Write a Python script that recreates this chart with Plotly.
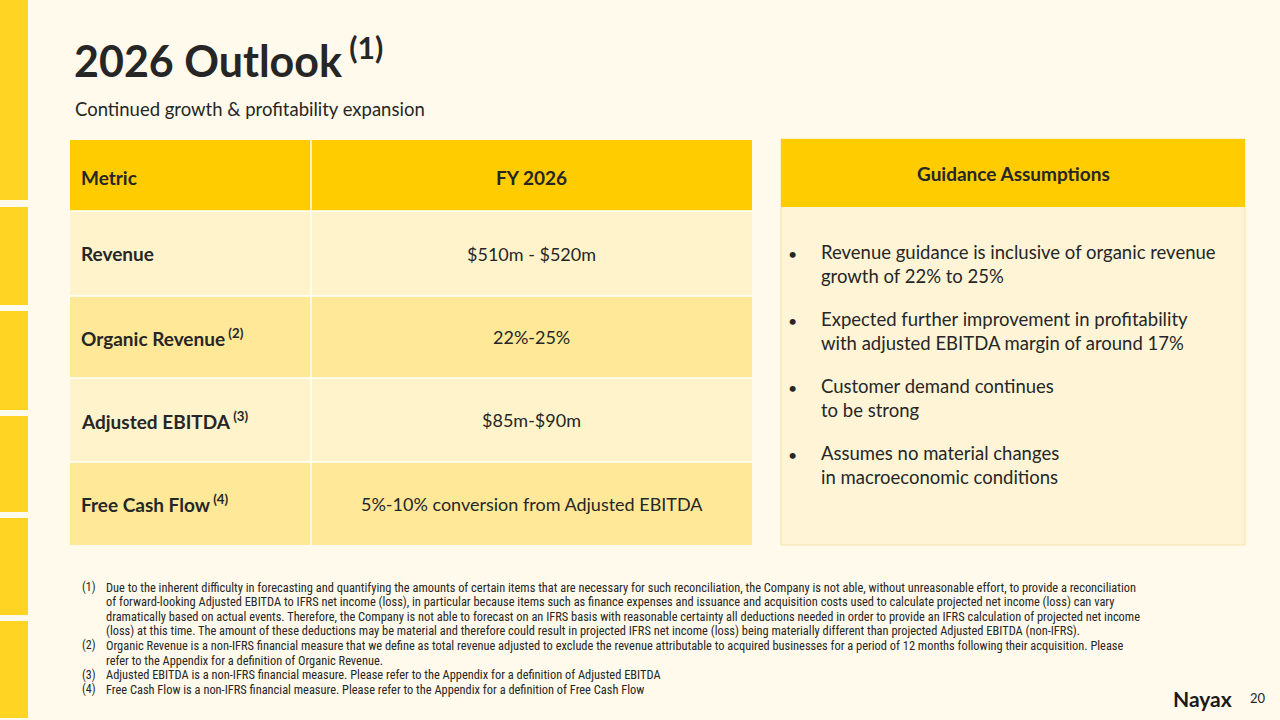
import plotly.graph_objects as go

title = "2026 Outlook"
subtitle = "Continued growth & profitability expansion"
header = ["Metric", "FY 2026"]
metrics = ["Revenue", "Organic Revenue", "Adjusted EBITDA", "Free Cash Flow"]
notes = ["", "(2)", "(3)", "(4)"]
values = ["$510m - $520m", "22%-25%", "$85m-$90m", "5%-10% conversion from Adjusted EBITDA"]
panel_title = "Guidance Assumptions"
bullets = [
    "Revenue guidance is inclusive of organic revenue<br>growth of 22% to 25%",
    "Expected further improvement in profitability<br>with adjusted EBITDA margin of around 17%",
    "Customer demand continues<br>to be strong",
    "Assumes no material changes<br>in macroeconomic conditions",
]
footnotes = [
    ("(1)", "Due to the inherent difficulty in forecasting and quantifying the amounts of certain items that are necessary for such reconciliation, the Company is not able, without unreasonable effort, to provide a reconciliation"),
    ("", "of forward-looking Adjusted EBITDA to IFRS net income (loss), in particular because items such as finance expenses and issuance and acquisition costs used to calculate projected net income (loss) can vary"),
    ("", "dramatically based on actual events. Therefore, the Company is not able to forecast on an IFRS basis with reasonable certainty all deductions needed in order to provide an IFRS calculation of projected net income"),
    ("", "(loss) at this time. The amount of these deductions may be material and therefore could result in projected IFRS net income (loss) being materially different than projected Adjusted EBITDA (non-IFRS)."),
    ("(2)", "Organic Revenue is a non-IFRS financial measure that we define as total revenue adjusted to exclude the revenue attributable to acquired businesses for a period of 12 months following their acquisition. Please"),
    ("", "refer to the Appendix for a definition of Organic Revenue."),
    ("(3)", "Adjusted EBITDA is a non-IFRS financial measure. Please refer to the Appendix for a definition of Adjusted EBITDA"),
    ("(4)", "Free Cash Flow is a non-IFRS financial measure. Please refer to the Appendix for a definition of Free Cash Flow"),
]

FONT = "Lato"
NARROW = "Roboto Condensed, Liberation Sans Narrow, Lato"
DARK = "#262626"
YEL = "#FFCC00"
row_fill = ["#FFF3CC", "#FFE999", "#FFF3CC", "#FFE999"]
row_edges = [211, 296, 378, 462, 545]

fig = go.Figure()
shapes, ann = [], []

# left tab strip
for y0, y1 in [(0, 200), (207, 305), (311, 410), (416, 512), (518, 615), (621, 718)]:
    shapes.append(dict(type="rect", x0=-6, x1=28, y0=y0, y1=y1, line_width=0,
                       fillcolor=YEL, opacity=0.85, layer="below"))

ann.append(dict(x=72, y=57, text=f"<b>{title}</b><sup><b> (1)</b></sup>", xanchor="left",
                font=dict(size=43, color=DARK, family=FONT)))
ann.append(dict(x=73, y=109, text=subtitle, xanchor="left",
                font=dict(size=18.5, color=DARK, family=FONT)))

# table
xl, xm, xr = 70, 311, 752
shapes.append(dict(type="rect", x0=xl, x1=xr, y0=140, y1=211, fillcolor=YEL, line_width=0))
shapes.append(dict(type="line", x0=xm, x1=xm, y0=140, y1=545, line=dict(color="white", width=1.5)))
ann.append(dict(x=79, y=177, text=f"<b>{header[0]}</b>", xanchor="left", font=dict(size=19, color=DARK, family=FONT)))
ann.append(dict(x=(xm + xr) / 2, y=177, text=f"<b>{header[1]}</b>", xanchor="center", font=dict(size=19, color=DARK, family=FONT)))
for i, m in enumerate(metrics):
    y0, y1 = row_edges[i], row_edges[i + 1]
    shapes.append(dict(type="rect", x0=xl, x1=xr, y0=y0, y1=y1, fillcolor=row_fill[i], line_width=0, layer="below"))
    shapes.append(dict(type="line", x0=xl, x1=xr, y0=y0, y1=y0, line=dict(color="white", width=1.5)))
    label = f"<b>{m}</b>" + (f"<sup><b> {notes[i]}</b></sup>" if notes[i] else "")
    ann.append(dict(x=79, y=(y0 + y1) / 2, text=label, xanchor="left", font=dict(size=19, color=DARK, family=FONT)))
    ann.append(dict(x=(xm + xr) / 2, y=(y0 + y1) / 2, text=values[i], xanchor="center", font=dict(size=18, color=DARK, family=FONT)))

# guidance panel
shapes.append(dict(type="rect", x0=781, x1=1245, y0=139, y1=545, fillcolor="#FFF5D6",
                   line=dict(color="#F5E3A8", width=1), layer="below"))
shapes.append(dict(type="rect", x0=781, x1=1245, y0=139, y1=207, fillcolor=YEL, line_width=0))
ann.append(dict(x=1013, y=173, text=f"<b>{panel_title}</b>", xanchor="center", font=dict(size=19, color=DARK, family=FONT)))
for i, b in enumerate(bullets):
    y = 264 + i * 67
    ann.append(dict(x=792, y=y - 11, text="•", xanchor="center", font=dict(size=16, color=DARK, family=FONT)))
    ann.append(dict(x=819, y=y, text=b, xanchor="left", align="left", font=dict(size=18.5, color=DARK, family=FONT)))

# footnotes
for i, (n, t) in enumerate(footnotes):
    y = 587 + i * 14.6
    if n:
        ann.append(dict(x=80, y=y, text=n, xanchor="left", font=dict(size=12, color=DARK, family=NARROW)))
    ann.append(dict(x=104, y=y, text=t, xanchor="left", font=dict(size=12.4, color=DARK, family=NARROW)))

ann.append(dict(x=1202, y=698, text="<b>Nayax</b>", xanchor="center", font=dict(size=21, color="#1A1A1A", family=FONT)))
ann.append(dict(x=1258, y=698, text="20", xanchor="center", font=dict(size=13, color=DARK, family=FONT)))

for a in ann:
    a.update(xref="x", yref="y", showarrow=False, yanchor="middle")

fig.update_layout(
    width=1280, height=720, margin=dict(l=0, r=0, t=0, b=0),
    paper_bgcolor="#FFFAEB", plot_bgcolor="#FFFAEB",
    xaxis=dict(range=[0, 1280], visible=False, fixedrange=True),
    yaxis=dict(range=[720, 0], visible=False, fixedrange=True),
    shapes=shapes, annotations=ann, showlegend=False,
)
fig.write_html("out.html", config={"displayModeBar": False},
               post_script="document.body.style.margin='0';")
